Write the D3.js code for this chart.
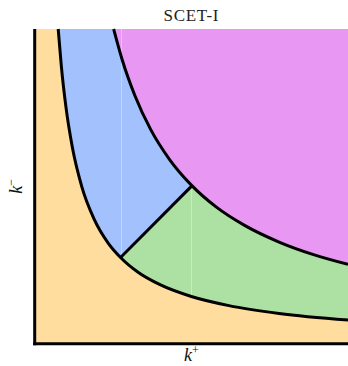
<!DOCTYPE html>
<html>
<head>
<meta charset="utf-8">
<script src="https://cdn.jsdelivr.net/npm/d3@7"></script>
<style>
  html, body { margin: 0; padding: 0; background: #fff; }
  svg { display: block; }
</style>
</head>
<body>
<svg id="chart" width="348" height="366"></svg>
<script>
// Lower boundary curve (k+, k-) — below it is the soft region
const innerCurve = [
  [0.075, 1.0], [0.085, 0.882], [0.1, 0.75], [0.12, 0.625], [0.15, 0.5],
  [0.19, 0.395], [0.235, 0.319], [0.274, 0.274], [0.33, 0.227], [0.4, 0.1875],
  [0.5, 0.15], [0.62, 0.121], [0.78, 0.096], [1.0, 0.075]
];
// Upper boundary curve (k+, k-) — above it is the hard region
const outerCurve = [
  [0.252, 1.0], [0.28, 0.9], [0.32, 0.788], [0.37, 0.681], [0.43, 0.586],
  [0.5, 0.504], [0.58, 0.434], [0.67, 0.376], [0.78, 0.323], [0.89, 0.283],
  [1.0, 0.252]
];
// Segment along k+ = k- joining the two curves
const diagonal = [[0.274, 0.274], [0.5, 0.5]];

const titleText = "SCET-I";
const colors = {
  soft: "#FEDD9F",
  collinearLeft: "#A2C1FD",
  collinearRight: "#ADE0A3",
  hard: "#E898F3"
};

const svg = d3.select("#chart");
const x = d3.scaleLinear().domain([0, 1]).range([34.7, 348]);
const y = d3.scaleLinear().domain([0, 1]).range([343.7, 29]);

// Region above a boundary curve, up to the top of the plot
const areaAbove = d3.area()
  .x(d => x(d[0]))
  .y0(d => y(d[1]))
  .y1(y(1))
  .curve(d3.curveMonotoneX);
const line = d3.line()
  .x(d => x(d[0]))
  .y(d => y(d[1]))
  .curve(d3.curveMonotoneX);

// Half-plane k- > k+ used to split the middle band
svg.append("defs").append("clipPath").attr("id", "leftOfDiag")
  .append("path")
  .attr("d", d3.line()([[x(0), y(0)], [x(1), y(1)], [x(1), y(1) - 5], [x(0), y(1) - 5]]) + "Z");

// Soft region fills the whole plot background
svg.append("rect")
  .attr("x", x(0)).attr("y", y(1))
  .attr("width", x(1) - x(0)).attr("height", y(0) - y(1))
  .attr("fill", colors.soft);

// Middle band: green everywhere above the lower curve, blue on the left of the diagonal
svg.append("path")
  .attr("d", areaAbove(innerCurve))
  .attr("fill", colors.collinearRight);
svg.append("path")
  .attr("d", areaAbove(innerCurve))
  .attr("clip-path", "url(#leftOfDiag)")
  .attr("fill", colors.collinearLeft);

// Hard region above the upper curve
svg.append("path")
  .attr("d", areaAbove(outerCurve))
  .attr("fill", colors.hard);

// Faint seams where the fill pieces meet
const seamColor = "rgba(255,255,255,0.35)";
const k1 = diagonal[0], k2 = diagonal[1];
const innerAtK2 = innerCurve.find(p => p[0] === k2[0]);
svg.append("line")
  .attr("x1", Math.round(x(k1[0])) + 0.5).attr("x2", Math.round(x(k1[0])) + 0.5)
  .attr("y1", y(1)).attr("y2", y(k1[1]))
  .attr("stroke", seamColor).attr("stroke-width", 1);
svg.append("line")
  .attr("x1", Math.round(x(k2[0])) + 0.5).attr("x2", Math.round(x(k2[0])) + 0.5)
  .attr("y1", y(k2[1])).attr("y2", y(innerAtK2[1]))
  .attr("stroke", seamColor).attr("stroke-width", 1);

// Boundary lines
const strokeW = 3;
svg.append("path").attr("d", line(innerCurve))
  .attr("fill", "none").attr("stroke", "#000").attr("stroke-width", strokeW);
svg.append("path").attr("d", line(outerCurve))
  .attr("fill", "none").attr("stroke", "#000").attr("stroke-width", strokeW);
svg.append("path").attr("d", d3.line().x(d => x(d[0])).y(d => y(d[1]))(diagonal))
  .attr("fill", "none").attr("stroke", "#000").attr("stroke-width", strokeW);

// Axes without ticks: only the left and bottom spines
svg.append("line")
  .attr("x1", x(0)).attr("x2", x(0))
  .attr("y1", y(1)).attr("y2", y(0) + 1.5)
  .attr("stroke", "#000").attr("stroke-width", 3);
svg.append("line")
  .attr("x1", x(0) - 1.5).attr("x2", x(1))
  .attr("y1", y(0)).attr("y2", y(0))
  .attr("stroke", "#000").attr("stroke-width", 3);

// Title
svg.append("text")
  .attr("x", (x(0) + x(1)) / 2).attr("y", 20.6)
  .attr("text-anchor", "middle")
  .attr("font-family", "'Liberation Serif', 'DejaVu Serif', serif")
  .attr("font-size", 17)
  .attr("letter-spacing", 0.7)
  .attr("fill", "#222")
  .text(titleText);

// Axis labels
const xl = svg.append("text")
  .attr("x", (x(0) + x(1)) / 2).attr("y", 361)
  .attr("text-anchor", "middle")
  .attr("font-family", "'Liberation Serif', 'DejaVu Serif', serif")
  .attr("font-size", 18)
  .attr("fill", "#111");
xl.append("tspan").attr("font-style", "italic").text("k");
xl.append("tspan").attr("dy", -7).attr("font-size", 12).text("+");

const yl = svg.append("text")
  .attr("transform", `translate(22, ${(y(0) + y(1)) / 2}) rotate(-90)`)
  .attr("text-anchor", "middle")
  .attr("font-family", "'Liberation Serif', 'DejaVu Serif', serif")
  .attr("font-size", 18)
  .attr("fill", "#111");
yl.append("tspan").attr("font-style", "italic").text("k");
yl.append("tspan").attr("dy", -7).attr("font-size", 12).text("\u2212");
</script>
</body>
</html>
